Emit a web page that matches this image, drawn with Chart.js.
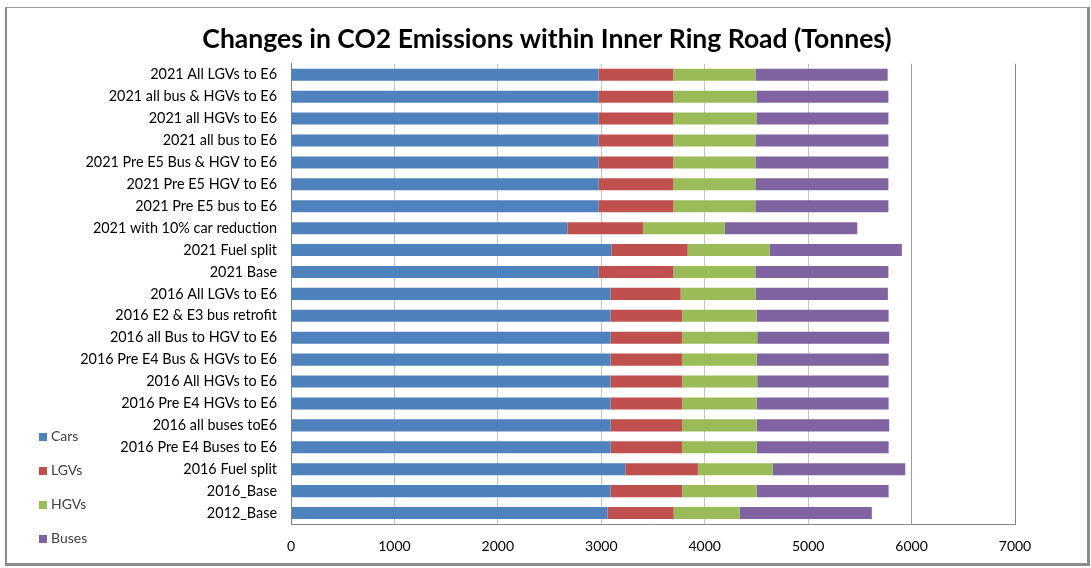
<!DOCTYPE html>
<html>
<head>
<meta charset="utf-8">
<title>Changes in CO2 Emissions within Inner Ring Road</title>
<script src="https://cdn.jsdelivr.net/npm/chart.js@4/dist/chart.umd.min.js"></script>
<style>
  html, body { margin: 0; padding: 0; background: #fff; }
  #wrap { position: relative; width: 1091px; height: 568px; }
  #chart { position: absolute; left: 0; top: 0; }
  #frame {
    position: absolute; left: 5px; top: 7px; width: 1080px; height: 555px;
    border-left: 2px solid #8c8c8c; border-top: 1px solid #9a9a9a;
    border-right: 3px solid #8c8c8c; border-bottom: 3px solid #8c8c8c;
    pointer-events: none;
  }
</style>
</head>
<body>
<div id="wrap">
  <canvas id="chart" width="1091" height="568"></canvas>
  <div id="frame"></div>
</div>
<script>
// Scenarios, listed top to bottom as drawn
const categories = [
  "2021 All LGVs to E6",
  "2021 all bus & HGVs to E6",
  "2021 all HGVs to E6",
  "2021 all bus to E6",
  "2021 Pre E5 Bus & HGV to E6",
  "2021 Pre E5 HGV to E6",
  "2021 Pre E5 bus to E6",
  "2021 with 10% car reduction",
  "2021 Fuel split",
  "2021 Base",
  "2016 All LGVs to E6",
  "2016 E2 & E3 bus retrofit",
  "2016 all Bus to HGV to E6",
  "2016 Pre E4 Bus & HGVs to E6",
  "2016 All HGVs to E6",
  "2016 Pre E4 HGVs to E6",
  "2016 all buses toE6",
  "2016 Pre E4 Buses to E6",
  "2016 Fuel split",
  "2016_Base",
  "2012_Base"
];

// CO2 emissions (tonnes) by vehicle type
const cars  = [2975, 2975, 2975, 2975, 2975, 2975, 2975, 2672, 3097, 2975, 3090, 3090, 3090, 3090, 3090, 3090, 3090, 3090, 3232, 3090, 3059];
const lgvs  = [ 722,  722,  722,  722,  722,  722,  722,  731,  738,  722,  677,  690,  690,  690,  690,  690,  690,  690,  702,  690,  640];
const hgvs  = [ 793,  803,  803,  793,  793,  793,  793,  792,  792,  793,  725,  722,  728,  722,  728,  722,  722,  722,  725,  722,  638];
const buses = [1279, 1276, 1276, 1286, 1286, 1286, 1286, 1280, 1279, 1286, 1279, 1276, 1276, 1276, 1270, 1276, 1282, 1276, 1280, 1276, 1279];

const seriesNames = ["Cars", "LGVs", "HGVs", "Buses"];
const xTicks = [0, 1000, 2000, 3000, 4000, 5000, 6000, 7000];

const colors = ["#4F81BD", "#C0504D", "#9BBB59", "#8064A2"];
const values = [cars, lgvs, hgvs, buses];

// Legend stacked in the lower-left corner of the frame
const sideLegend = {
  id: 'sideLegend',
  afterDraw(chart, args, opts) {
    const ctx = chart.ctx;
    ctx.save();
    ctx.font = opts.font;
    ctx.textBaseline = 'middle';
    ctx.textAlign = 'left';
    chart.data.datasets.forEach((ds, i) => {
      const y = opts.y + i * opts.gap;
      ctx.fillStyle = ds.backgroundColor;
      ctx.fillRect(opts.x, Math.round(y - opts.box / 2), opts.box, opts.box);
      ctx.fillStyle = opts.color;
      ctx.fillText(ds.label, opts.x + opts.box + 4, y);
    });
    ctx.restore();
  }
};

// Centre the title over the whole frame rather than the padded layout box
const titleShift = {
  id: 'titleShift',
  afterLayout(chart, args, opts) {
    const t = chart.titleBlock;
    if (t) { t.left += opts.dx; t.right += opts.dx; }
  }
};

new Chart(document.getElementById('chart'), {
  type: 'bar',
  data: {
    labels: categories,
    datasets: seriesNames.map((name, i) => ({
      label: name,
      data: values[i],
      backgroundColor: colors[i],
      borderWidth: 0,
      barPercentage: 0.55,
      categoryPercentage: 1.0
    }))
  },
  options: {
    indexAxis: 'y',
    responsive: false,
    animation: false,
    layout: { padding: { left: 7, right: 76, top: 0, bottom: 0 } },
    plugins: {
      legend: { display: false },
      tooltip: { enabled: false },
      title: {
        display: true,
        text: "Changes in CO2 Emissions within Inner Ring Road (Tonnes)",
        color: "#000",
        font: { family: "Lato", size: 26.5, weight: "bold" },
        padding: { top: 24, bottom: 8 }
      },
      titleShift: { dx: 36 },
      sideLegend: { x: 39, y: 436.5, gap: 34, box: 8, font: "14px Lato", color: "#404040" }
    },
    scales: {
      x: {
        stacked: true,
        min: 0,
        max: 7000,
        afterBuildTicks: (scale) => { scale.ticks = xTicks.map(v => ({ value: v })); },
        afterFit: (scale) => { scale.height = 44; },
        ticks: {
          color: "#000",
          font: { family: "Lato", size: 14 },
          padding: 14,
          maxRotation: 0,
          callback: (v) => String(v)
        },
        grid: {
          drawTicks: false,
          color: (ctx) => {
            const v = ctx.tick ? ctx.tick.value : null;
            if (v === 0 || v === 7000) return "#868686";
            if (v === 6000) return "#9a9a9a";
            return "#c4c4c4";
          },
          lineWidth: 1
        },
        border: { display: true, color: "#868686", width: 1 }
      },
      y: {
        stacked: true,
        afterFit: (scale) => { scale.width = 284; },
        ticks: {
          color: "#000",
          font: { family: "Lato", size: 14.4 },
          padding: 14,
          autoSkip: false
        },
        grid: { display: false, drawTicks: false },
        border: { display: true, color: "#868686", width: 1 }
      }
    }
  },
  plugins: [sideLegend, titleShift]
});
</script>
</body>
</html>
